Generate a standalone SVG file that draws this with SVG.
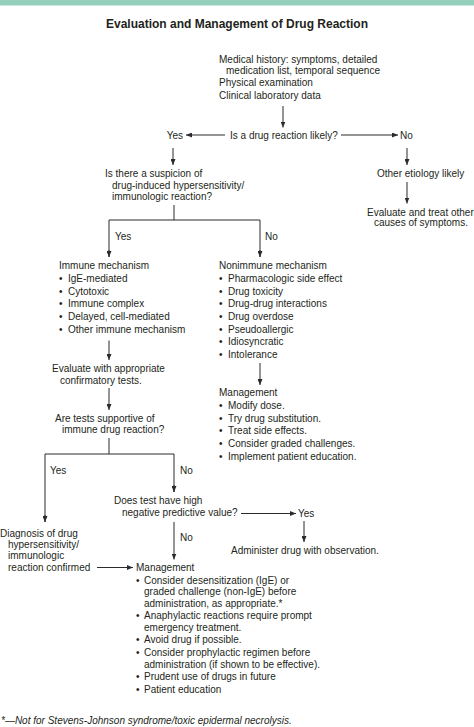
<svg xmlns="http://www.w3.org/2000/svg" width="474" height="727" viewBox="0 0 474 727">
<defs>
<style>
text{font-family:"Liberation Sans",Arial,sans-serif;font-size:10px;fill:#231f20}
.title{font-size:12px;font-weight:bold;text-anchor:middle}
.foot{font-style:italic}
.c line,.c polyline{stroke:#2b2b2b;stroke-width:1;fill:none}
.arr{marker-end:url(#ah)}
</style>
<marker id="ah" markerUnits="userSpaceOnUse" markerWidth="6" markerHeight="5" refX="6" refY="2.5" orient="auto">
<path d="M0,0 L6,2.5 L0,5 z" fill="#2b2b2b"/>
</marker>
</defs>
<rect x="0" y="0" width="474" height="727" fill="#ffffff"/>
<rect id="band" x="0" y="0" width="474" height="5.5" fill="#93cfbb"/>
<text id="title" class="title" x="237" y="28">Evaluation and Management of Drug Reaction</text>

<g class="c" id="connectors">
<line class="arr" x1="283" y1="106" x2="283" y2="127.5"/>
<line class="arr" x1="225" y1="135" x2="186" y2="135"/>
<line class="arr" x1="341" y1="135" x2="398" y2="135"/>
<line class="arr" x1="173" y1="148" x2="173" y2="165"/>
<line class="arr" x1="407" y1="148" x2="407" y2="165"/>
<line class="arr" x1="407" y1="182" x2="407" y2="203.5"/>
<polyline points="174,205 174,220"/>
<polyline points="109,257 109,220 260,220 260,257"/>
<line class="arr" x1="109" y1="250" x2="109" y2="257"/>
<line class="arr" x1="260" y1="250" x2="260" y2="257"/>
<line class="arr" x1="109" y1="340.5" x2="109" y2="360"/>
<line class="arr" x1="109" y1="388" x2="109" y2="410"/>
<line class="arr" x1="260" y1="363" x2="260" y2="385"/>
<polyline points="109,438 109,454"/>
<polyline points="45,522 45,454 174,454 174,492"/>
<line class="arr" x1="45" y1="515" x2="45" y2="522"/>
<line class="arr" x1="174" y1="485" x2="174" y2="492"/>
<line class="arr" x1="241" y1="513.5" x2="296" y2="513.5"/>
<line class="arr" x1="304" y1="521" x2="304" y2="542"/>
<line class="arr" x1="174" y1="522" x2="174" y2="559.5"/>
<line class="arr" x1="97" y1="567.5" x2="133" y2="567.5"/>
</g>

<g id="n-start">
<text x="219" y="62.5">Medical history: symptoms, detailed</text>
<text x="226" y="73.5">medication list, temporal sequence</text>
<text x="219" y="86">Physical examination</text>
<text x="219" y="99">Clinical laboratory data</text>
</g>
<g id="n-likely"><text x="230" y="138.5">Is a drug reaction likely?</text></g>
<g id="n-yes1"><text x="183" y="138.5" text-anchor="end">Yes</text></g>
<g id="n-no1"><text x="400" y="138.5">No</text></g>
<g id="n-suspicion">
<text x="105" y="177">Is there a suspicion of</text>
<text x="112" y="188.5">drug-induced hypersensitivity/</text>
<text x="112" y="199.5">immunologic reaction?</text>
</g>
<g id="n-other"><text x="377" y="177">Other etiology likely</text></g>
<g id="n-evalother">
<text x="367" y="215.5">Evaluate and treat other</text>
<text x="374" y="226">causes of symptoms.</text>
</g>
<g id="l-yes2"><text x="115" y="239.5">Yes</text></g>
<g id="l-no2"><text x="265" y="239.5">No</text></g>
<g id="n-immune">
<text x="59" y="268.5">Immune mechanism</text>
<text x="59" y="281.5">•<tspan x="68">IgE-mediated</tspan></text>
<text x="59" y="294.5">•<tspan x="68">Cytotoxic</tspan></text>
<text x="59" y="307">•<tspan x="68">Immune complex</tspan></text>
<text x="59" y="320">•<tspan x="68">Delayed, cell-mediated</tspan></text>
<text x="59" y="332.5">•<tspan x="68">Other immune mechanism</tspan></text>
</g>
<g id="n-nonimmune">
<text x="219" y="268.5">Nonimmune mechanism</text>
<text x="219" y="281.5">•<tspan x="228">Pharmacologic side effect</tspan></text>
<text x="219" y="294.5">•<tspan x="228">Drug toxicity</tspan></text>
<text x="219" y="307">•<tspan x="228">Drug-drug interactions</tspan></text>
<text x="219" y="320">•<tspan x="228">Drug overdose</tspan></text>
<text x="219" y="332.5">•<tspan x="228">Pseudoallergic</tspan></text>
<text x="219" y="345">•<tspan x="228">Idiosyncratic</tspan></text>
<text x="219" y="357.5">•<tspan x="228">Intolerance</tspan></text>
</g>
<g id="n-evaluate">
<text x="52" y="371.5">Evaluate with appropriate</text>
<text x="60" y="383.5">confirmatory tests.</text>
</g>
<g id="n-mgmt1">
<text x="219" y="396">Management</text>
<text x="219" y="409">•<tspan x="228">Modify dose.</tspan></text>
<text x="219" y="421.5">•<tspan x="228">Try drug substitution.</tspan></text>
<text x="219" y="434">•<tspan x="228">Treat side effects.</tspan></text>
<text x="219" y="447">•<tspan x="228">Consider graded challenges.</tspan></text>
<text x="219" y="459.5">•<tspan x="228">Implement patient education.</tspan></text>
</g>
<g id="n-tests">
<text x="55" y="421.5">Are tests supportive of</text>
<text x="62" y="432.5">immune drug reaction?</text>
</g>
<g id="l-yes3"><text x="50" y="474">Yes</text></g>
<g id="l-no3"><text x="180" y="474">No</text></g>
<g id="n-npv">
<text x="114" y="504">Does test have high</text>
<text x="122" y="516">negative predictive value?</text>
</g>
<g id="n-yes4"><text x="298" y="517">Yes</text></g>
<g id="n-administer"><text x="231" y="554">Administer drug with observation.</text></g>
<g id="l-no4"><text x="180" y="541">No</text></g>
<g id="n-diagnosis">
<text x="0" y="537">Diagnosis of drug</text>
<text x="8" y="548">hypersensitivity/</text>
<text x="8" y="559">immunologic</text>
<text x="8" y="570.5">reaction confirmed</text>
</g>
<g id="n-mgmt2">
<text x="136" y="570.5">Management</text>
<text x="136" y="583.5">•<tspan x="144">Consider desensitization (IgE) or</tspan></text>
<text x="144" y="595">graded challenge (non-IgE) before</text>
<text x="144" y="606.5">administration, as appropriate.*</text>
<text x="136" y="619">•<tspan x="144">Anaphylactic reactions require prompt</tspan></text>
<text x="144" y="630.5">emergency treatment.</text>
<text x="136" y="643">•<tspan x="144">Avoid drug if possible.</tspan></text>
<text x="136" y="656">•<tspan x="144">Consider prophylactic regimen before</tspan></text>
<text x="144" y="667.5">administration (if shown to be effective).</text>
<text x="136" y="680">•<tspan x="144">Prudent use of drugs in future</tspan></text>
<text x="136" y="692.5">•<tspan x="144">Patient education</tspan></text>
</g>
<g id="footnote"><text class="foot" x="1" y="723.5">*—Not for Stevens-Johnson syndrome/toxic epidermal necrolysis.</text></g>
</svg>
